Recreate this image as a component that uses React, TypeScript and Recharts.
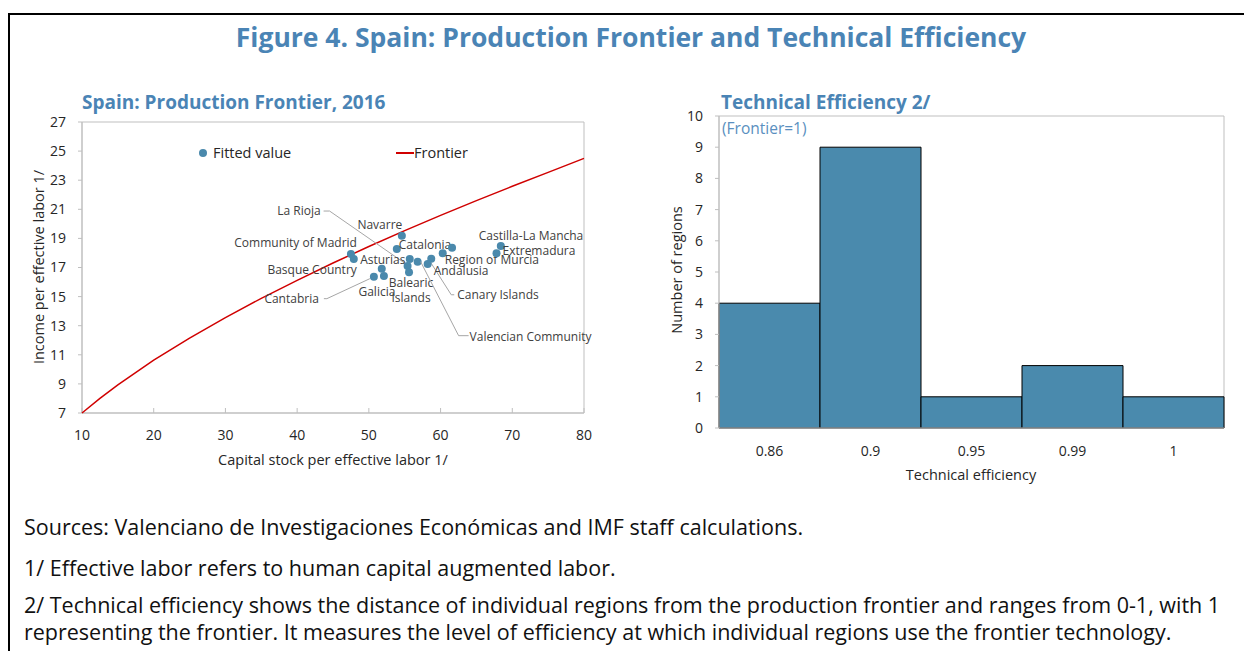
import {
  ScatterChart,
  Scatter,
  BarChart,
  Bar,
  XAxis,
  YAxis,
  ReferenceArea,
} from 'recharts'

// left panel: regions
const regionNames = [
  'Community of Madrid',
  'Basque Country',
  'Navarre',
  'Catalonia',
  'Aragon',
  'Region of Murcia',
  'La Rioja',
  'Asturias',
  'Balearic Islands',
  'Valencian Community',
  'Canary Islands',
  'Andalusia',
  'Castilla y León',
  'Galicia',
  'Cantabria',
  'Castilla-La Mancha',
  'Extremadura',
]
const capitalStock = [47.5, 47.9, 54.6, 53.9, 61.6, 60.3, 55.4, 51.8, 55.6, 56.8, 58.7, 58.2, 55.7, 52.1, 50.7, 68.4, 67.8]
const incomePerLabor = [17.93, 17.58, 19.19, 18.27, 18.36, 17.98, 17.1, 16.92, 16.67, 17.4, 17.6, 17.24, 17.58, 16.42, 16.37, 18.48, 17.98]

// frontier curve
const frontierCapital = [10, 12.5, 15, 20, 25, 30, 35, 40, 45, 50, 55, 60, 65, 70, 75, 80]
const frontierIncome = [7.0, 8.0, 8.93, 10.63, 12.15, 13.56, 14.88, 16.12, 17.31, 18.44, 19.53, 20.58, 21.6, 22.58, 23.54, 24.5]

const xTicks = [10, 20, 30, 40, 50, 60, 70, 80]
const yTicks = [7, 9, 11, 13, 15, 17, 19, 21, 23, 25, 27]

// right panel: histogram
const efficiencyBins = ['0.86', '0.9', '0.95', '0.99', '1']
const regionCounts = [4, 9, 1, 2, 1]
const countTicks = [0, 1, 2, 3, 4, 5, 6, 7, 8, 9, 10]

const regions = regionNames.map((name, i) => ({ name, x: capitalStock[i], y: incomePerLabor[i] }))
const frontier = frontierCapital.map((x, i) => ({ x, y: frontierIncome[i] }))
const histogram = efficiencyBins.map((bin, i) => ({ bin, count: regionCounts[i] }))

const FONT = '"Open Sans", "Noto Sans", sans-serif'
const BLUE = '#4a84b5'
const DOT = '#4a89ac'
const TEXT = '#262626'
const AXIS = '#bfbfbf'

// label placement relative to each dot (px)
type Place = { dx: number; dy: number; anchor: 'start' | 'middle' | 'end'; lines?: string[]; leader?: number[][] }
const placement: Record<string, Place> = {
  'Community of Madrid': { dx: 6, dy: -7, anchor: 'end' },
  'Basque Country': { dx: 3, dy: 15, anchor: 'end' },
  Navarre: { dx: -22, dy: -7, anchor: 'middle' },
  Catalonia: { dx: 2, dy: 0, anchor: 'start' },
  'Castilla-La Mancha': { dx: -22, dy: -6, anchor: 'start' },
  Extremadura: { dx: 6, dy: 2, anchor: 'start' },
  'Region of Murcia': { dx: 2, dy: 11, anchor: 'start' },
  Andalusia: { dx: 6, dy: 11, anchor: 'start' },
  Asturias: { dx: 1, dy: -5, anchor: 'middle' },
  Galicia: { dx: -7, dy: 20, anchor: 'middle' },
  'Balearic Islands': { dx: 2, dy: 15, anchor: 'middle', lines: ['Balearic', 'Islands'] },
  'La Rioja': { dx: -87, dy: -51, anchor: 'end', leader: [[-84, -55], [-78, -55], [-3, -3]] },
  Cantabria: { dx: -55, dy: 26, anchor: 'end', leader: [[-50, 22], [-47, 22], [-4, 2]] },
  'Canary Islands': { dx: 26, dy: 40, anchor: 'start', leader: [[23, 36], [20, 36], [-1, 3]] },
  'Valencian Community': { dx: 52, dy: 79, anchor: 'start', leader: [[51, 74], [41, 74], [3, 0]] },
}

const RegionDot = (props: any) => {
  const { cx, cy, payload } = props
  const p = placement[payload?.name]
  return (
    <g>
      <circle cx={cx} cy={cy} r={4} fill={DOT} />
      {p && p.leader && (
        <polyline
          points={p.leader.map(([a, b]) => `${cx + a},${cy + b}`).join(' ')}
          fill="none"
          stroke="#a6a6a6"
          strokeWidth={1}
        />
      )}
      {p &&
        (p.lines || [payload.name]).map((t, i) => (
          <text
            key={t}
            x={cx + p.dx}
            y={cy + p.dy + i * 15}
            textAnchor={p.anchor}
            fontSize={12}
            fontFamily={FONT}
            fill="#404040"
          >
            {t}
          </text>
        ))}
    </g>
  )
}

const NoDot = () => <g />

const tickStyle = { fill: TEXT, fontSize: 14, fontFamily: FONT }

const axisTitle = {
  position: 'absolute' as const,
  whiteSpace: 'nowrap' as const,
  fontSize: 14.5,
  color: TEXT,
}

export default function App() {
  return (
    <div
      style={{
        position: 'absolute',
        left: 0,
        top: 0,
        width: 1244,
        height: 651,
        overflow: 'hidden',
        background: '#fff',
        fontFamily: FONT,
      }}
    >
      <div
        style={{
          position: 'absolute',
          left: 8,
          top: 13,
          width: 1244,
          height: 700,
          borderTop: '2px solid #000',
          borderLeft: '2px solid #000',
        }}
      />
      <div
        style={{
          position: 'absolute',
          top: 19,
          left: 0,
          width: 1262,
          textAlign: 'center',
          fontSize: 26.5,
          fontWeight: 700,
          color: BLUE,
        }}
      >
        Figure 4. Spain: Production Frontier and Technical Efficiency
      </div>

      {/* left panel */}
      <div style={{ position: 'absolute', left: 82, top: 89, fontSize: 19, fontWeight: 700, color: BLUE }}>
        Spain: Production Frontier, 2016
      </div>
      <div style={{ ...axisTitle, left: 38, top: 267, transform: 'translate(-50%, -50%) rotate(-90deg)' }}>
        Income per effective labor 1/
      </div>
      <div style={{ ...axisTitle, left: 333, top: 459, transform: 'translate(-50%, -50%)' }}>
        Capital stock per effective labor 1/
      </div>
      <div
        style={{
          position: 'absolute',
          left: 199,
          top: 143,
          display: 'flex',
          alignItems: 'center',
          fontSize: 14.5,
          color: TEXT,
          zIndex: 2,
        }}
      >
        <span style={{ width: 8, height: 8, borderRadius: 4, background: DOT, marginRight: 6 }} />
        <span style={{ width: 183 }}>Fitted value</span>
        <span style={{ width: 18, height: 2, background: '#d00000' }} />
        <span>Frontier</span>
      </div>
      <div style={{ position: 'absolute', left: 0, top: 0 }}>
        <ScatterChart width={620} height={480} margin={{ top: 122, right: 36, bottom: 37, left: 52 }}>
          <XAxis
            type="number"
            dataKey="x"
            domain={[10, 80]}
            ticks={xTicks}
            height={30}
            stroke={AXIS}
            tickSize={-5}
            tickMargin={22}
            tick={tickStyle}
          />
          <YAxis
            type="number"
            dataKey="y"
            domain={[7, 27]}
            ticks={yTicks}
            width={30}
            stroke={AXIS}
            tickSize={4}
            tickMargin={12}
            tick={tickStyle}
          />
          <ReferenceArea x1={10} x2={80} y1={7} y2={27} fill="none" stroke={AXIS} strokeWidth={1} />
          <Scatter
            name="Frontier"
            data={frontier}
            line={{ stroke: '#d00000', strokeWidth: 1.5 }}
            lineType="joint"
            shape={NoDot}
            isAnimationActive={false}
          />
          <Scatter name="Fitted value" data={regions} shape={RegionDot} isAnimationActive={false} />
        </ScatterChart>
      </div>

      {/* right panel */}
      <div style={{ position: 'absolute', left: 721, top: 89, fontSize: 19, fontWeight: 700, color: BLUE }}>
        Technical Efficiency 2/
      </div>
      <div style={{ ...axisTitle, left: 676, top: 270, transform: 'translate(-50%, -50%) rotate(-90deg)' }}>
        Number of regions
      </div>
      <div style={{ ...axisTitle, left: 971, top: 474, transform: 'translate(-50%, -50%)' }}>
        Technical efficiency
      </div>
      <div style={{ position: 'absolute', left: 640, top: 0 }}>
        <BarChart
          width={604}
          height={480}
          data={histogram}
          barCategoryGap={0}
          margin={{ top: 116, right: 20, bottom: 22, left: 49 }}
        >
          <XAxis dataKey="bin" height={30} stroke={AXIS} tickLine={false} tickMargin={12} tick={tickStyle} />
          <YAxis
            domain={[0, 10]}
            ticks={countTicks}
            width={30}
            stroke={AXIS}
            tickSize={4}
            tickMargin={12}
            tick={tickStyle}
          />
          <Bar dataKey="count" fill="#4a8aad" stroke="#000" strokeWidth={1} isAnimationActive={false} />
          <ReferenceArea x1="0.86" x2="1" y1={0} y2={10} fill="none" stroke={AXIS} strokeWidth={1} />
        </BarChart>
      </div>
      <div style={{ position: 'absolute', left: 722, top: 117, fontSize: 15.5, color: '#5a8fc0' }}>(Frontier=1)</div>

      {/* notes */}
      <div style={{ position: 'absolute', left: 24, top: 513, fontSize: 21.5, color: '#111', lineHeight: '27px' }}>
        <div>Sources: Valenciano de Investigaciones Económicas and IMF staff calculations.</div>
        <div style={{ marginTop: 14 }}>1/ Effective labor refers to human capital augmented labor.</div>
        <div style={{ marginTop: 10, whiteSpace: 'nowrap' }}>
          2/ Technical efficiency shows the distance of individual regions from the production frontier and ranges
          from 0-1, with 1
        </div>
        <div style={{ whiteSpace: 'nowrap' }}>
          representing the frontier. It measures the level of efficiency at which individual regions use the frontier
          technology.
        </div>
      </div>
    </div>
  )
}
